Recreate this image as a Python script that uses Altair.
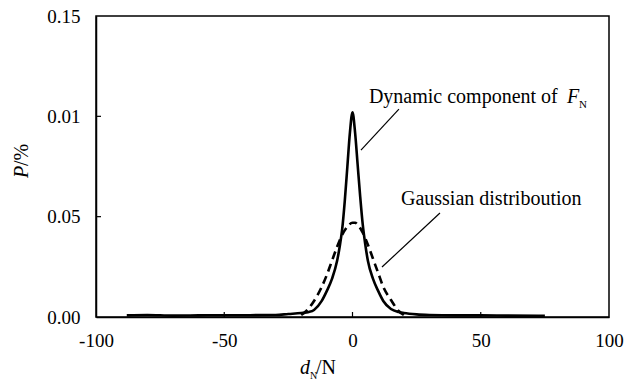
import altair as alt
import pandas as pd

# ---- data ----
dyn_x = [-88, -80, -70, -60, -50, -40, -30, -25, -20, -17, -15, -12, -10, -8, -6, -5, -4, -3, -2, -1, 0,
         1, 2, 3, 4, 5, 6, 8, 10, 12, 15, 18, 20, 25, 30, 40, 50, 60, 75]
dyn_y = [0.0008, 0.0010, 0.0007, 0.0008, 0.0009, 0.0009, 0.0010, 0.0015, 0.0020, 0.0025, 0.0035, 0.0080,
         0.0130, 0.0190, 0.0280, 0.0350, 0.0440, 0.0580, 0.0750, 0.0920, 0.1020,
         0.0920, 0.0760, 0.0600, 0.0460, 0.0360, 0.0280, 0.0190, 0.0130, 0.0080, 0.0040, 0.0025,
         0.0020, 0.0013, 0.0010, 0.0008, 0.0008, 0.0007, 0.0006]

gau_x = [-20, -18, -15, -12, -10, -8, -6, -4, -2, 0, 1, 2, 4, 6, 8, 10, 12, 15, 18, 20]
gau_y = [0.0010, 0.0030, 0.0080, 0.0150, 0.0210, 0.0280, 0.0350, 0.0410, 0.0450, 0.0470, 0.0470,
         0.0460, 0.0420, 0.0360, 0.0290, 0.0220, 0.0150, 0.0085, 0.0030, 0.0010]

x_ticks = [-100, -50, 0, 50, 100]
y_ticks = [0.0, 0.05, 0.10, 0.15]
y_tick_labels = ["0.00", "0.05", "0.01", "0.15"]

FONT = "Liberation Serif"
FS = 19
AFS = 20
W, H = 513, 301

dyn = pd.DataFrame({"x": dyn_x, "y": dyn_y})
gau = pd.DataFrame({"x": gau_x, "y": gau_y})

xs = alt.Scale(domain=[-100, 100], nice=False)
ys = alt.Scale(domain=[0, 0.15], nice=False)

label_arr = "[" + ",".join("'%s'" % s for s in y_tick_labels) + "]"

xaxis = alt.Axis(values=x_ticks, ticks=False, grid=False, title=None,
                 labelPadding=14, labelFlush=False, labelOverlap=False,
                 labelFont=FONT, labelFontSize=FS, labelColor="black",
                 labelExpr="toString(datum.value)")
yaxis = alt.Axis(values=y_ticks, ticks=False, grid=False, title=None,
                 labelPadding=16, labelFlush=False, labelOverlap=False,
                 labelFont=FONT, labelFontSize=FS, labelColor="black",
                 labelExpr=label_arr + "[round(datum.value/0.05)]")

def X(f):
    return alt.X(f, scale=xs, axis=xaxis)

def Y(f):
    return alt.Y(f, scale=ys, axis=yaxis)

solid = alt.Chart(dyn).mark_line(color="black", strokeWidth=2.6, interpolate="monotone").encode(
    x=X("x:Q"), y=Y("y:Q"))
dashed = alt.Chart(gau).mark_line(color="black", strokeWidth=2.6, strokeDash=[8, 5],
                                  interpolate="monotone").encode(x=X("x:Q"), y=Y("y:Q"))

# inward ticks
yt = pd.DataFrame({"v": y_ticks[1:-1]})
ytick = alt.Chart(yt).mark_rule(color="black", strokeWidth=1.2).encode(
    y=Y("v:Q"), x=alt.value(0), x2=alt.value(5))
xt = pd.DataFrame({"v": x_ticks[1:-1]})
xtick = alt.Chart(xt).mark_rule(color="black", strokeWidth=1.2).encode(
    x=X("v:Q"), y=alt.value(H), y2=alt.value(H - 5))

# leader lines
leaders = pd.DataFrame({"x1": [18.1, 34.1], "y1": [0.1036, 0.0518],
                        "x2": [3.3, 11.5], "y2": [0.0832, 0.0249]})
lead = alt.Chart(leaders).mark_rule(color="black", strokeWidth=1.2).encode(
    x=X("x1:Q"), y=Y("y1:Q"), x2="x2:Q", y2="y2:Q")

# annotation texts
ann = pd.DataFrame({"x": [6.4, 18.9], "y": [0.1066, 0.0558],
                    "t": ["Dynamic component of", "Gaussian distriboution"]})
ann_t = alt.Chart(ann).mark_text(font=FONT, fontSize=AFS, align="left", baseline="alphabetic",
                                 color="black").encode(x=X("x:Q"), y=Y("y:Q"), text="t:N")
fdf = pd.DataFrame({"x": [83.6], "y": [0.1066], "t": ["F"]})
f_t = alt.Chart(fdf).mark_text(font=FONT, fontSize=AFS, fontStyle="italic", align="left",
                               baseline="alphabetic", color="black").encode(
    x=X("x:Q"), y=Y("y:Q"), text="t:N")
ndf = pd.DataFrame({"x": [88.3], "y": [0.1041], "t": ["N"]})
n_t = alt.Chart(ndf).mark_text(font=FONT, fontSize=11, align="left",
                               baseline="alphabetic", color="black").encode(
    x=X("x:Q"), y=Y("y:Q"), text="t:N")

# axis titles
one = pd.DataFrame({"a": [0]})
def txt(s, px, py, size=AFS, style="normal", angle=0, baseline="alphabetic"):
    return alt.Chart(one).mark_text(font=FONT, fontSize=size, fontStyle=style, align="left",
                                    baseline=baseline, angle=angle, color="black").encode(
        x=alt.value(px), y=alt.value(py), text=alt.value(s))

xt1 = txt("d", 204, 358, style="italic")
xt2 = txt("N", 214, 363, size=10)
xt3 = txt("/N", 220, 358)
yt1 = txt("P", -74, 162, style="italic", angle=270, baseline="middle")
yt2 = txt("/%", -74, 150, angle=270, baseline="middle")

chart = alt.layer(solid, dashed, ytick, xtick, lead, ann_t, f_t, n_t, xt1, xt2, xt3, yt1, yt2).properties(
    width=W, height=H,
    autosize=alt.AutoSizeParams(type="none"),
    padding={"left": 96, "top": 16, "right": 25, "bottom": 74},
    background="white",
).configure_view(stroke="black", strokeWidth=1.5).configure_axis(
    labelFont=FONT, labelFontSize=FS, labelColor="black", domainColor="black", domainWidth=1.5
)

chart.save("out.html", embed_options={"renderer": "svg", "actions": False})
